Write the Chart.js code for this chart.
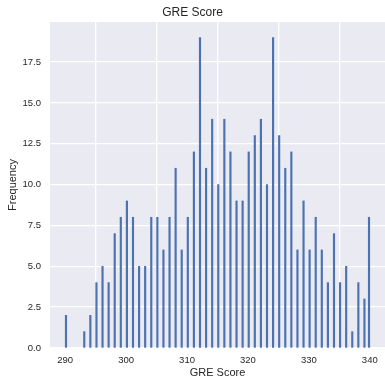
<!DOCTYPE html>
<html>
<head>
<meta charset="utf-8">
<script src="https://cdn.jsdelivr.net/npm/chart.js@4"></script>
<style>
  html, body { margin: 0; padding: 0; background: #ffffff; }
  canvas { display: block; }
</style>
</head>
<body>
<canvas id="c" width="385" height="382"></canvas>
<script>
// GRE score values and their frequencies (histogram, bin width 0.25)
const scores = [290, 293, 294, 295, 296, 297, 298, 299, 300, 301, 302, 303, 304, 305, 306, 307, 308, 309, 310,
                311, 312, 313, 314, 315, 316, 317, 318, 319, 320, 321, 322, 323, 324, 325, 326, 327, 328, 329, 330,
                331, 332, 333, 334, 335, 336, 337, 338, 339, 340];
const counts = [2, 1, 2, 4, 5, 4, 7, 8, 9, 8, 5, 5, 8, 8, 6, 8, 11, 6, 8,
                12, 19, 11, 14, 10, 14, 12, 9, 9, 12, 13, 14, 10, 19, 13, 11, 12, 6, 9, 6,
                8, 6, 4, 7, 4, 5, 1, 4, 3, 8];
const xTicks = [290, 300, 310, 320, 330, 340];
const yTicks = [0, 2.5, 5, 7.5, 10, 12.5, 15, 17.5];
const binWidth = 0.25;
const xMin = 290, xMax = 340;

// bin centres: each bin is [v, v+binWidth), last bin closed at xMax
const points = scores.map((s, i) => {
  const start = Math.min(s, xMax - binWidth);
  return { x: start + binWidth / 2, y: counts[i] };
});

const FONT = "'Liberation Sans', Arial, 'DejaVu Sans', sans-serif";
const TXT = '#262626';

const bgPlugin = {
  id: 'plotBg',
  beforeDraw(chart) {
    const a = chart.chartArea;
    const ctx = chart.ctx;
    ctx.save();
    ctx.fillStyle = '#EAEAF2';
    ctx.fillRect(a.left, a.top, a.right - a.left, a.bottom - a.top);
    ctx.restore();
  }
};

new Chart(document.getElementById('c'), {
  type: 'bar',
  data: {
    datasets: [{
      data: points,
      backgroundColor: '#4C72B0',
      borderWidth: 0,
      barThickness: 1.5
    }]
  },
  options: {
    responsive: false,
    animation: false,
    devicePixelRatio: 1,
    layout: { padding: 0 },
    plugins: {
      legend: { display: false },
      tooltip: { enabled: false },
      title: {
        display: true,
        text: 'GRE Score',
        color: TXT,
        font: { family: FONT, size: 12, weight: 'normal' },
        padding: { top: 5, bottom: 2.6 }
      }
    },
    scales: {
      x: {
        type: 'linear',
        offset: false,
        min: 287.5,
        max: 342.5,
        afterBuildTicks(scale) { scale.ticks = xTicks.map(v => ({ value: v })); },
        afterFit(scale) { scale.height = 34; },
        ticks: {
          color: TXT,
          font: { family: FONT, size: 9.5 },
          padding: 7,
          maxRotation: 0,
          autoSkip: false
        },
        grid: { color: '#ffffff', lineWidth: 1.3, drawTicks: false },
        border: { display: false },
        title: {
          display: true,
          text: 'GRE Score',
          color: TXT,
          font: { family: FONT, size: 11 },
          padding: { top: 0, bottom: 2 }
        }
      },
      y: {
        min: 0,
        max: 19.95,
        afterBuildTicks(scale) { scale.ticks = yTicks.map(v => ({ value: v })); },
        afterFit(scale) { scale.width = 50; },
        ticks: {
          color: TXT,
          font: { family: FONT, size: 9.5 },
          padding: 9,
          callback: v => Number(v).toFixed(1)
        },
        grid: { color: '#ffffff', lineWidth: 1.3, drawTicks: false },
        border: { display: false },
        title: {
          display: true,
          text: 'Frequency',
          color: TXT,
          font: { family: FONT, size: 11 },
          padding: { top: 6, bottom: 0 }
        }
      }
    }
  },
  plugins: [bgPlugin]
});
</script>
</body>
</html>
